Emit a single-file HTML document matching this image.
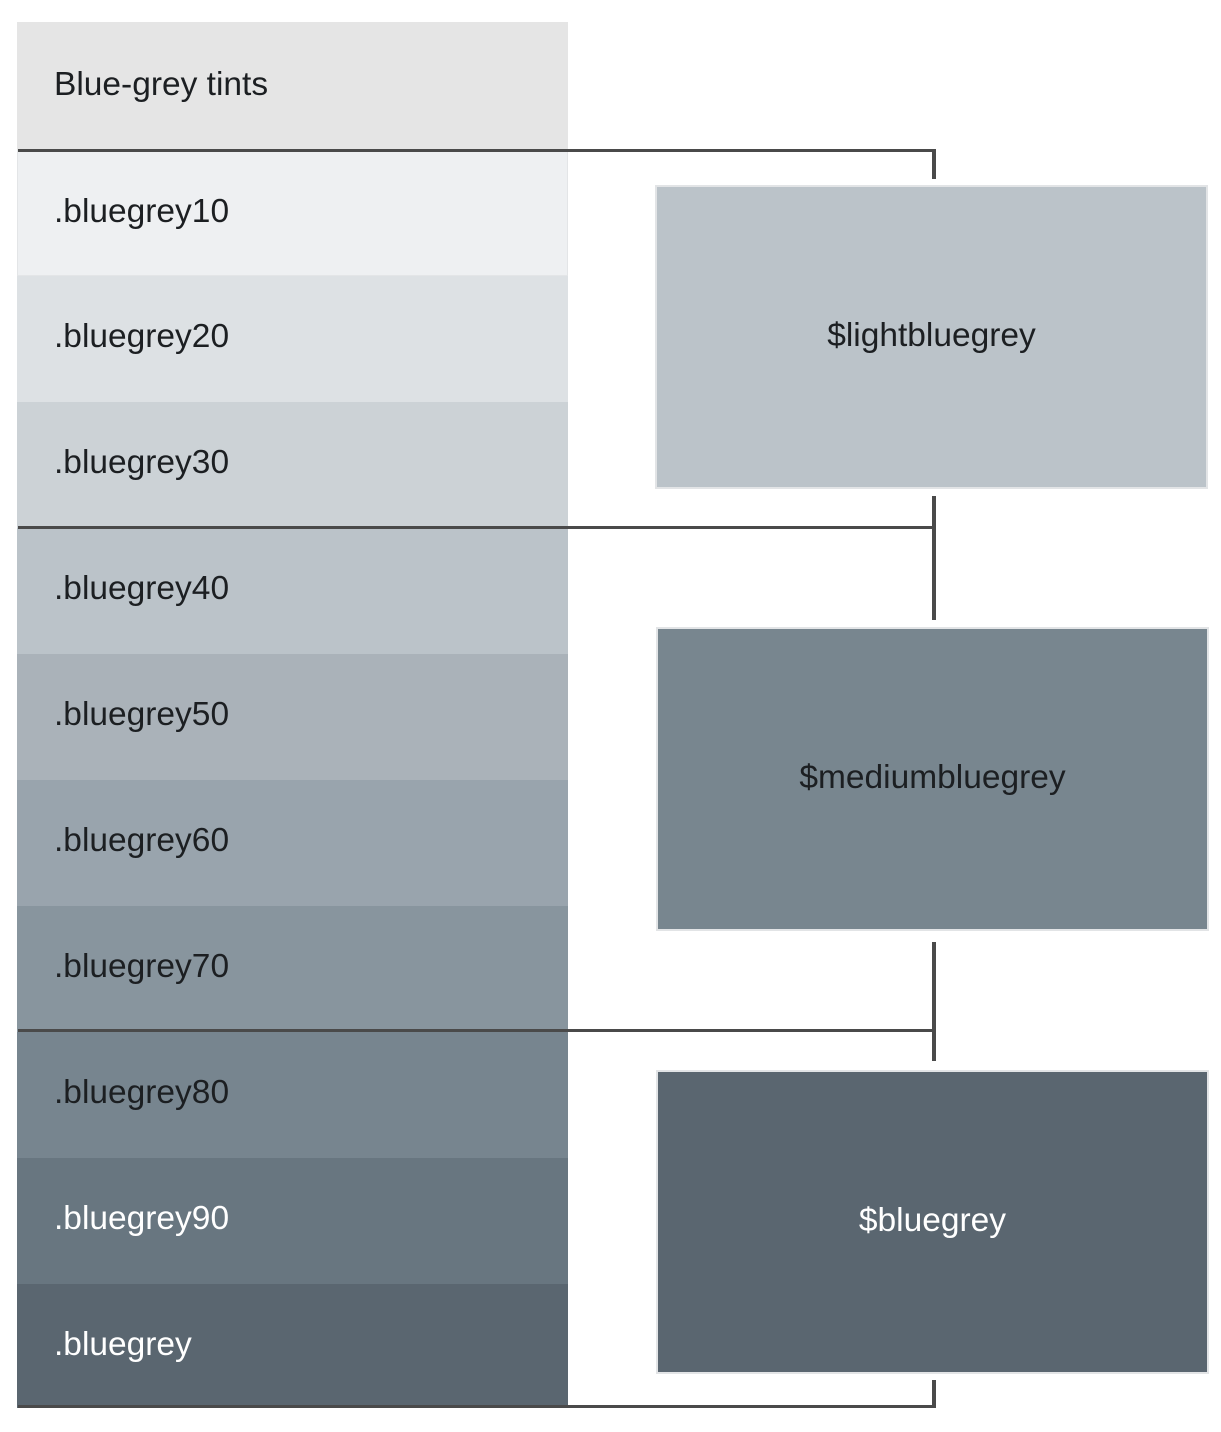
<!DOCTYPE html>
<html><head><style>
body{margin:0;width:1221px;height:1432px;background:#fff;position:relative;font-family:"Liberation Sans",sans-serif;overflow:hidden}
.r{position:absolute;left:17px;width:551px;height:126px;box-sizing:border-box;padding-left:37px;line-height:122px;font-size:33.5px;color:#1c1f22}
.w{color:#fff}
.b{position:absolute;box-sizing:border-box;border:2px solid #e2e4e6;text-align:center;font-size:33.5px;color:#1c1f22}
.l{position:absolute;background:#4a4a4a}
</style></head><body>
<div class="r" style="top:22px;height:128px;background:#e5e5e5;line-height:126px">Blue-grey tints</div>
<div class="r" style="top:150px;background:#eef0f2;border:1px solid #e3e5e7;padding-left:36px">.bluegrey10</div>
<div class="r" style="top:276px;background:#dde1e4">.bluegrey20</div>
<div class="r" style="top:402px;background:#ccd2d6">.bluegrey30</div>
<div class="r" style="top:528px;background:#bbc3c9">.bluegrey40</div>
<div class="r" style="top:654px;background:#aab2b9">.bluegrey50</div>
<div class="r" style="top:780px;background:#99a4ad">.bluegrey60</div>
<div class="r" style="top:906px;background:#88959e">.bluegrey70</div>
<div class="r" style="top:1032px;background:#77858f">.bluegrey80</div>
<div class="r w" style="top:1158px;background:#687680">.bluegrey90</div>
<div class="r w" style="top:1284px;background:#5a6670;height:124px">.bluegrey</div>

<div class="b" style="left:655px;top:185px;width:553px;height:304px;background:#bbc3c9;line-height:298px">$lightbluegrey</div>
<div class="b" style="left:656px;top:627px;width:553px;height:304px;background:#78868f;line-height:298px">$mediumbluegrey</div>
<div class="b" style="left:656px;top:1070px;width:553px;height:304px;background:#5a6670;line-height:298px;color:#fff">$bluegrey</div>

<div class="l" style="left:18px;top:149px;width:918px;height:3px"></div>
<div class="l" style="left:932px;top:149px;width:4px;height:30px"></div>
<div class="l" style="left:18px;top:526px;width:918px;height:3px"></div>
<div class="l" style="left:932px;top:496px;width:4px;height:124px"></div>
<div class="l" style="left:18px;top:1029px;width:918px;height:3px"></div>
<div class="l" style="left:932px;top:942px;width:4px;height:119px"></div>
<div class="l" style="left:18px;top:1405px;width:918px;height:3px"></div>
<div class="l" style="left:932px;top:1380px;width:4px;height:28px"></div>
</body></html>
